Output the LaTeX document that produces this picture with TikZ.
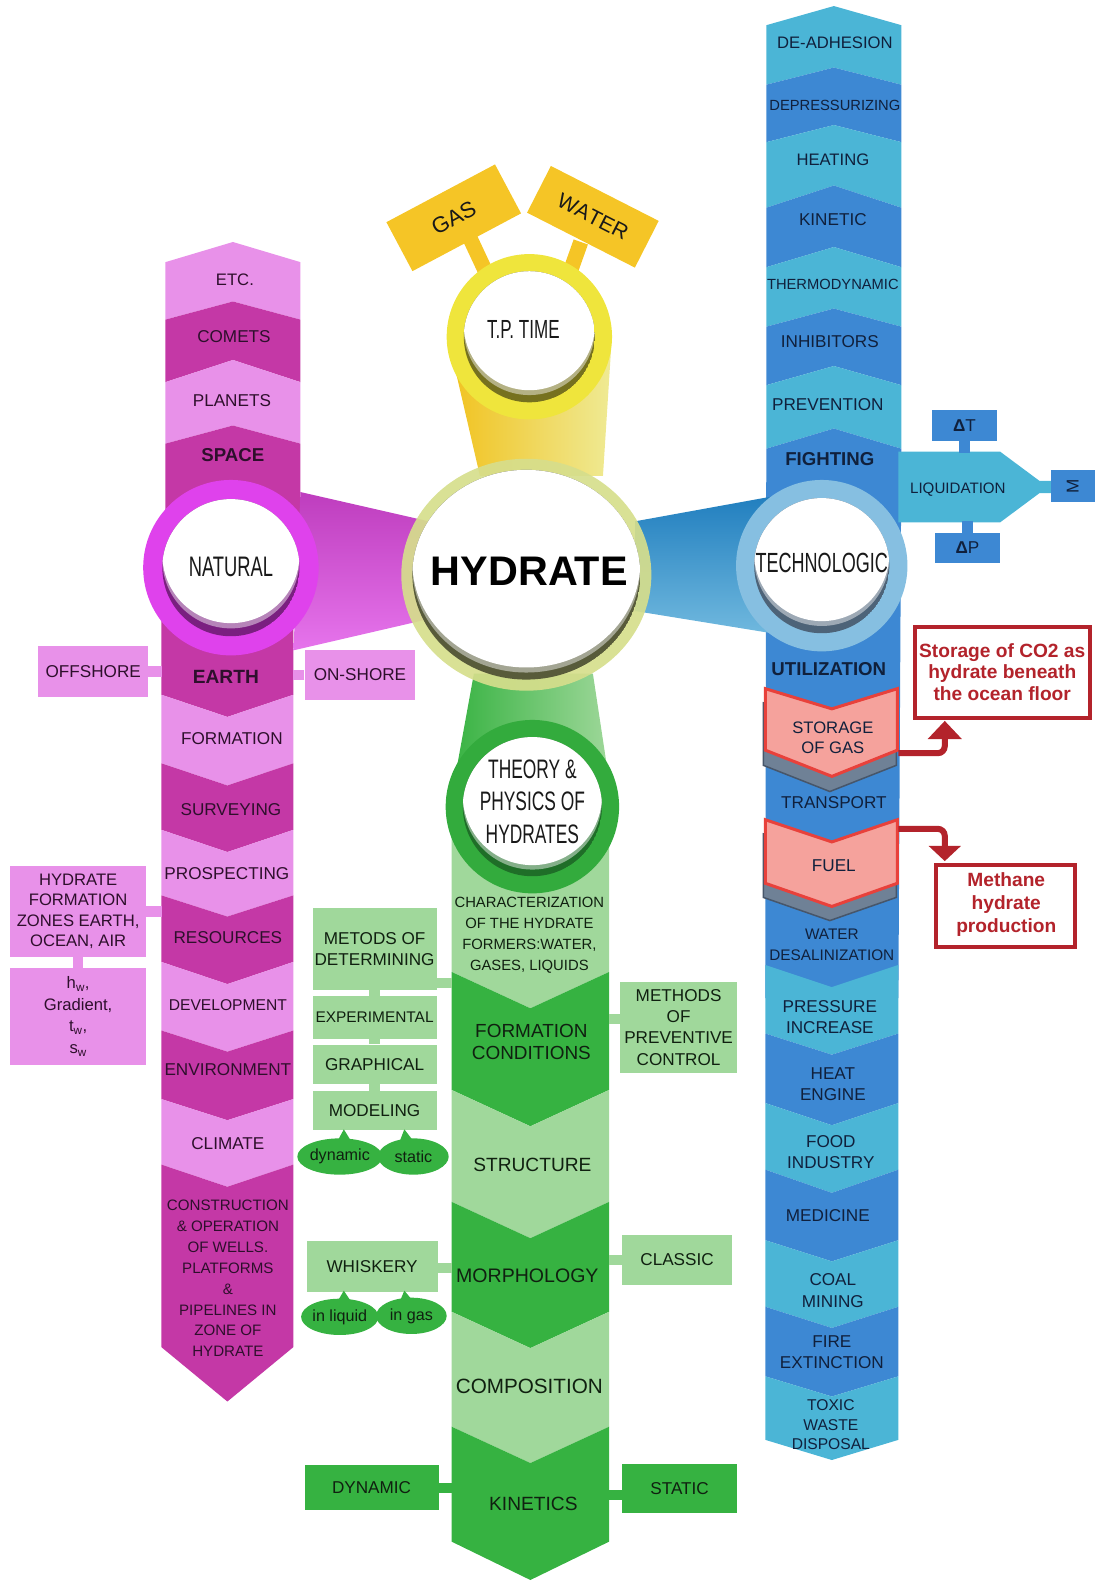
\documentclass[tikz,border=0pt]{standalone}
\usepackage{fontspec}
\setmainfont{Liberation Sans}
\newfontfamily\condfont[FakeStretch=0.65]{Liberation Sans}
\newfontfamily\nokern[Kerning=Off]{Liberation Sans}
\usetikzlibrary{shapes.geometric}
\definecolor{bL}{HTML}{4BB5D6}
\definecolor{bD}{HTML}{3D88D3}
\definecolor{bRing}{HTML}{86BFE1}
\definecolor{bConA}{HTML}{1F7DBE}
\definecolor{bConB}{HTML}{72BADF}
\definecolor{bTxt}{HTML}{10203C}
\definecolor{pL}{HTML}{E891E9}
\definecolor{pD}{HTML}{C438A6}
\definecolor{pRing}{HTML}{DF42EC}
\definecolor{pConA}{HTML}{BE3DBE}
\definecolor{pConB}{HTML}{E674EC}
\definecolor{pTxt}{HTML}{2E0F2C}
\definecolor{gL}{HTML}{A0D89B}
\definecolor{gD}{HTML}{36B241}
\definecolor{gRing}{HTML}{33AB3D}
\definecolor{gTxt}{HTML}{102010}
\definecolor{yRing}{HTML}{EFE53C}
\definecolor{yBox}{HTML}{F5C526}
\definecolor{yConA}{HTML}{F1C21E}
\definecolor{yConB}{HTML}{EFEA94}
\definecolor{hRing}{HTML}{D6DE8C}
\definecolor{rEdge}{HTML}{E8413B}
\definecolor{rFill}{HTML}{F5A29C}
\definecolor{rDark}{HTML}{B3232B}
\definecolor{shGrey}{HTML}{6F8196}
\definecolor{shEdge}{HTML}{47566A}
\definecolor{shY}{HTML}{76711F}
\definecolor{shH}{HTML}{585B3A}
\definecolor{shP}{HTML}{7A1F80}
\definecolor{shB}{HTML}{4D6378}
\definecolor{shG}{HTML}{1F6E28}
% band between two chevron boundaries: colour, xL, xR, top side y, top centre y, bottom side y, bottom centre y
\newcommand{\cband}[7]{\fill[#1] (#2,#4) -- ({(#2+#3)/2},#5) -- (#3,#4) -- (#3,#6) -- ({(#2+#3)/2},#7) -- (#2,#6) -- cycle;}
% ring with inset white disc: cx, cy, R, r, ring colour, shadow colour, shift
\newcommand{\ringdisc}[7]{%
  \fill[#5] (#1,#2) circle[radius=#3pt];
  \begin{scope}
    \clip (#1,#2) circle[radius=#4pt];
    \fill[#6] (#1,#2) circle[radius=#4pt];
    \fill[#6!55!white] (#1,#2-#7*0.6) circle[radius=#4pt];
    \fill[white] (#1,#2-#7) circle[radius=#4pt];
  \end{scope}}
\begin{document}
\begin{tikzpicture}[x=1pt,y=-1pt]
\tikzset{
  lab/.style={inner sep=0pt, align=center, font=\fontsize{17}{21}\selectfont},
  blab/.style={lab, text=bTxt},
  plab/.style={lab, text=pTxt},
  glab/.style={lab, text=gTxt},
  circlab/.style={inner sep=0pt, align=center, text=black!90},
  redtxt/.style={inner sep=0pt, align=center, text=rDark, font=\bfseries\fontsize{19}{21.5}\selectfont},
  bub/.style={ellipse, fill=gD, inner sep=0pt, minimum width=70, minimum height=36, text=gTxt, font=\fontsize{16}{18}\selectfont}
}
\useasboundingbox (0,0) rectangle (1086,1568);

% ---------------- BLUE COLUMN ----------------
\cband{bL}{760}{894}{25}{6}{84}{67}
\cband{bD}{760}{894}{84}{67}{141}{124}
\cband{bL}{760}{894}{141}{124}{206}{184}
\cband{bD}{760}{894}{206}{184}{265}{245}
\cband{bL}{760}{894}{265}{245}{324}{306}
\cband{bD}{760}{894}{324}{306}{382}{363}
\cband{bL}{760}{894}{382}{363}{445}{425}
\fill[bD] (760,445) -- (827,425) -- (894,445) -- (891,990) -- (759,990) -- cycle;
\cband{bL}{759}{891}{957}{979}{1025}{1046}
\cband{bD}{759}{891}{1025}{1046}{1094}{1116}
\cband{bL}{759}{891}{1094}{1116}{1160}{1183}
\cband{bD}{759}{891}{1160}{1183}{1230}{1251}
\cband{bL}{759}{891}{1230}{1251}{1296}{1317}
\cband{bD}{759}{891}{1296}{1317}{1365}{1385}
\cband{bL}{759}{891}{1365}{1385}{1428}{1448}
% red chevrons with shadows
\filldraw[fill=shGrey, draw=shEdge, line width=1.5] (757,697) -- (823,717) -- (889,697) -- (889,759) -- (823,785) -- (757,759) -- cycle;
\filldraw[fill=rFill, draw=rEdge, line width=3] (759,683) -- (825,703) -- (890,683) -- (890,744) -- (825,770) -- (759,744) -- cycle;
\filldraw[fill=shGrey, draw=shEdge, line width=1.5] (757,827) -- (823,849) -- (889,827) -- (889,890) -- (823,913) -- (757,890) -- cycle;
\filldraw[fill=rFill, draw=rEdge, line width=3] (759,813) -- (825,835) -- (890,813) -- (890,876) -- (825,899) -- (759,876) -- cycle;
% liquidation branch
\fill[bL] (891,448) -- (992,448) -- (1031,477) -- (1043,477) -- (1043,489) -- (1031,489) -- (992,518) -- (891,518) -- cycle;
\node[blab, fill=bD, minimum width=65, minimum height=30] (dT) at (956.5,422) {{\bfseries Δ}T};
\node[blab, fill=bD, minimum width=65, minimum height=29] (dP) at (959.5,543.5) {{\bfseries Δ}P};
\node[blab, fill=bD, minimum width=44, minimum height=31] (mbox) at (1064,482) {\rotatebox{90}{M}};
\draw[bD, line width=11] (dT.south) -- ++(0,12);
\draw[bD, line width=11] (dP.north) -- ++(0,-12);
\node[blab, font=\fontsize{15}{18}\selectfont] (liq) at (950,486) {LIQUIDATION};

% ---------------- PINK COLUMN ----------------
\cband{pL}{164}{298}{260}{240}{317}{299}
\cband{pD}{164}{298}{317}{299}{379}{357}
\cband{pL}{164}{298}{379}{357}{440}{422}
\fill[pD] (164,440) -- (231,422) -- (298,440) -- (298,520) -- (291,610) -- (291,689) -- (225.5,711) -- (160,689) -- (160,610) -- (164,520) -- cycle;
\cband{pL}{160}{291}{689}{711}{757}{779}
\cband{pD}{160}{291}{757}{779}{823}{845}
\cband{pL}{160}{291}{823}{845}{888}{909}
\cband{pD}{160}{291}{888}{909}{954}{976}
\cband{pL}{160}{291}{954}{976}{1022}{1043}
\cband{pD}{160}{291}{1022}{1043}{1090}{1111}
\cband{pL}{160}{291}{1090}{1111}{1155}{1177}
\cband{pD}{160}{291}{1155}{1177}{1336}{1390}
% pink side boxes
\node[plab, fill=pL, minimum width=109, minimum height=50] (off) at (92.5,666) {OFFSHORE};
\node[plab, fill=pL, minimum width=110, minimum height=49] (ons) at (357,669.5) {ON-SHORE};
\draw[pL, line width=10] (off.east) -- ++(13,0);
\draw[pL, line width=10] (ons.west) -- ++(-11,0);
\node[plab, fill=pL, minimum width=135, minimum height=90, font=\fontsize{16.5}{20.3}\selectfont] (hfz) at (77.5,904) {HYDRATE\\FORMATION\\ZONES EARTH,\\OCEAN, AIR};
\node[plab, fill=pL, minimum width=135, minimum height=96, font=\fontsize{16.5}{21.5}\selectfont] (hw) at (77.5,1008) {h\textsubscript{w},\\Gradient,\\t\textsubscript{w},\\s\textsubscript{w}};
\draw[pL, line width=10] (hfz.east) -- ++(15,0);
\draw[pL, line width=10] (hfz.south) -- (hw.north);

% ---------------- GREEN COLUMN ----------------
\cband{gL}{448}{604}{790}{790}{964}{1000}
\cband{gD}{448}{604}{964}{1000}{1081}{1117}
\cband{gL}{448}{604}{1081}{1117}{1192}{1228}
\cband{gD}{448}{604}{1192}{1228}{1301}{1337}
\cband{gL}{448}{604}{1301}{1337}{1415}{1451}
\cband{gD}{448}{604}{1415}{1451}{1529}{1567}
% green side boxes
\node[glab, fill=gL, minimum width=123, minimum height=81] (met) at (371.5,941.5) {METODS OF\\DETERMINING};
\node[glab, fill=gL, minimum width=123, minimum height=42, font=\fontsize{15.3}{18}\selectfont] (exp) at (371.5,1009) {EXPERIMENTAL};
\node[glab, fill=gL, minimum width=123, minimum height=39] (gra) at (371.5,1055.5) {GRAPHICAL};
\node[glab, fill=gL, minimum width=123, minimum height=39] (mod) at (371.5,1101.5) {MODELING};
\draw[gL, line width=11] (met.south) -- (exp.north);
\draw[gL, line width=11] (exp.south) -- (gra.north);
\draw[gL, line width=11] (gra.south) -- (mod.north);
\draw[gL, line width=10] (met.south east) ++(0,-7) -- ++(15,0);
\fill[gD] (334,1133) -- (341,1120) -- (349,1133) -- cycle;
\fill[gD] (396,1133) -- (401,1120) -- (411,1133) -- cycle;
\node[bub] (dyn) at (337,1147) {dynamic};
\node[bub] (sta) at (410,1147) {static};
\node[glab, fill=gL, minimum width=116, minimum height=90] (mpc) at (673,1019) {METHODS\\OF\\PREVENTIVE\\CONTROL};
\draw[gL, line width=10] (mpc.west) ++(0,-8) -- ++(-11,0);
\node[glab, fill=gL, minimum width=130, minimum height=50] (whi) at (369,1256) {WHISKERY};
\draw[gL, line width=10] (whi.east) ++(0,2) -- ++(14,0);
\fill[gD] (334,1292) -- (341,1280) -- (349,1292) -- cycle;
\fill[gD] (396,1292) -- (401,1280) -- (411,1292) -- cycle;
\node[bub] (liqd) at (337,1306) {in liquid};
\node[bub] (ingas) at (408,1305) {in gas};
\node[glab, fill=gL, minimum width=109, minimum height=49] (cla) at (671.5,1249.5) {CLASSIC};
\draw[gL, line width=10] (cla.west) -- ++(-13,0);
\node[glab, fill=gD, minimum width=133, minimum height=45] (dyb) at (368.5,1475.5) {DYNAMIC};
\draw[gD, line width=10] (dyb.east) -- ++(13,0);
\node[glab, fill=gD, minimum width=114, minimum height=49] (stb) at (674,1476.5) {STATIC};
\draw[gD, line width=10] (stb.west) ++(0,6) -- ++(-13,0);

% ---------------- CONNECTORS ----------------
\draw[yBox, line width=15] (466,236) -- (481,268);
\draw[yBox, line width=15] (576,240) -- (566,268);
\shade[left color=yConA, right color=yConB] (444,334) -- (606,347) -- (598,472) -- (476,472) -- cycle;
\shade[top color=pConA, bottom color=pConB] (298,488) -- (425,517) -- (425,614) -- (291,645) -- cycle;
\shade[top color=bConA, bottom color=bConB] (630,517) -- (790,488) -- (790,632) -- (630,606) -- cycle;
\shade[left color=gD, right color=gL] (470,668) -- (588,668) -- (608,800) -- (446,800) -- cycle;

% ---------------- GAS / WATER ----------------
\node[fill=yBox, minimum width=122, minimum height=55, rotate=28, inner sep=0pt, font=\fontsize{22}{24}\selectfont, text=black!90] (gas) at (450,216) {GAS};
\node[fill=yBox, minimum width=120, minimum height=52, rotate=-27, inner sep=0pt, font=\nokern\fontsize{21}{24}\selectfont, text=black!90] (water) at (588,215) {WATER};

% ---------------- CIRCLES ----------------
\ringdisc{525}{334}{82}{65}{yRing}{shY}{12}
\fill[hRing, opacity=0.92] (522,570) ellipse [x radius=124pt, y radius=115pt];
\begin{scope}
  \clip (522,570) ellipse [x radius=113pt, y radius=104pt];
  \fill[shH] (522,570) ellipse [x radius=113pt, y radius=104pt];
  \fill[shH!55!white] (522,563) ellipse [x radius=113pt, y radius=104pt];
  \fill[white] (522,558) ellipse [x radius=113pt, y radius=104pt];
\end{scope}
\ringdisc{229}{563}{87}{68}{pRing}{shP}{13}
\ringdisc{815}{561}{85}{67}{bRing}{shB}{12}
\ringdisc{528}{800}{86}{69}{gRing}{shG}{11}

\node[circlab, font=\condfont\fontsize{26}{30}\selectfont] (tp) at (519,327) {T.P. TIME};
\node[circlab, font=\bfseries\fontsize{41}{45}\selectfont, text=black] (hyd) at (525,567) {HYDRATE};
\node[circlab, font=\condfont\fontsize{28}{32}\selectfont] (nat) at (229,562) {NATURAL};
\node[circlab, font=\condfont\fontsize{27.5}{32}\selectfont] (tec) at (815,558) {TECHNOLOGIC};
\node[circlab, font=\condfont\fontsize{26.5}{32.5}\selectfont] (the) at (528,795) {THEORY \&\\PHYSICS OF\\HYDRATES};

% ---------------- BLUE LABELS ----------------
\node[blab, font=\fontsize{16.5}{20}\selectfont] at (828,42) {DE-ADHESION};
\node[blab, font=\fontsize{14.6}{18}\selectfont] at (828,105) {DEPRESSURIZING};
\node[blab, font=\fontsize{16.5}{20}\selectfont] at (826,158) {HEATING};
\node[blab] at (826,218) {KINETIC};
\node[blab, font=\fontsize{14.6}{18}\selectfont] at (826,282) {THERMODYNAMIC};
\node[blab] at (823,339) {INHIBITORS};
\node[blab] at (821,401) {PREVENTION};
\node[blab, font=\bfseries\fontsize{18.5}{21}\selectfont] at (823,455) {FIGHTING};
\node[blab, font=\bfseries\fontsize{18.5}{21}\selectfont] at (822,664) {UTILIZATION};
\node[blab, font=\fontsize{16.5}{20}\selectfont] (stor) at (826,732) {STORAGE\\OF GAS};
\node[blab] at (827,796) {TRANSPORT};
\node[blab] (fuel) at (827,859) {FUEL};
\node[blab, font=\fontsize{15.2}{20}\selectfont] at (825,937) {WATER\\DESALINIZATION};
\node[blab] at (823,1009) {PRESSURE\\INCREASE};
\node[blab] at (826,1075) {HEAT\\ENGINE};
\node[blab] at (824,1143) {FOOD\\INDUSTRY};
\node[blab] at (821,1206) {MEDICINE};
\node[blab] at (826,1280) {COAL\\MINING};
\node[blab] at (825,1341) {FIRE\\EXTINCTION};
\node[blab, font=\fontsize{15.5}{19}\selectfont] at (824,1413) {TOXIC\\WASTE\\DISPOSAL};

% ---------------- PINK LABELS ----------------
\node[plab, font=\fontsize{16.5}{20}\selectfont] at (233,277) {ETC.};
\node[plab] at (232,334) {COMETS};
\node[plab] at (230,397) {PLANETS};
\node[plab, font=\bfseries\fontsize{18.5}{21}\selectfont] at (231,451) {SPACE};
\node[plab, font=\bfseries\fontsize{19}{21}\selectfont] at (224,671) {EARTH};
\node[plab] at (230,733) {FORMATION};
\node[plab] at (229,803) {SURVEYING};
\node[plab] at (225,866) {PROSPECTING};
\node[plab] at (226,930) {RESOURCES};
\node[plab, font=\fontsize{15.5}{19}\selectfont] at (226,997) {DEVELOPMENT};
\node[plab] at (226,1061) {ENVIRONMENT};
\node[plab] at (226,1134) {CLIMATE};
\node[plab, font=\fontsize{15}{20.7}\selectfont] at (226,1268) {CONSTRUCTION\\\& OPERATION\\OF WELLS.\\PLATFORMS\\\&\\PIPELINES IN\\ZONE OF\\HYDRATE};

% ---------------- GREEN LABELS ----------------
\node[glab, font=\fontsize{14.7}{21}\selectfont] at (525,927.5) {CHARACTERIZATION\\OF THE HYDRATE\\FORMERS:WATER,\\GASES, LIQUIDS};
\node[glab, font=\fontsize{18.8}{21.5}\selectfont] at (527,1033.5) {FORMATION\\CONDITIONS};
\node[glab, font=\fontsize{19}{22}\selectfont] at (528,1155) {STRUCTURE};
\node[glab, font=\fontsize{19.4}{22}\selectfont] at (523,1265) {MORPHOLOGY};
\node[glab, font=\fontsize{20.5}{23}\selectfont] at (525,1375) {COMPOSITION};
\node[glab, font=\fontsize{19}{22}\selectfont] at (529,1492) {KINETICS};

% ---------------- RED CALLOUTS ----------------
\node[draw=rDark, line width=4, fill=white, minimum width=174, minimum height=90, inner sep=0pt] (co2) at (994,667) {};
\node[redtxt] at (994,666.5) {Storage of CO2 as\\hydrate beneath\\the ocean floor};
\node[draw=rDark, line width=4, fill=white, minimum width=138, minimum height=81, inner sep=0pt] (meth) at (997,898.5) {};
\node[redtxt, font=\bfseries\fontsize{19}{23}\selectfont] at (998,897) {Methane\\hydrate\\production};
\coordinate (a1) at (891,747);
\coordinate (a2) at (891,822);
\draw[rDark, line width=6, rounded corners=7] (a1) -- (937,747) -- (937,731);
\fill[rDark] (920,733) -- (937,715) -- (954,733) -- cycle;
\draw[rDark, line width=6, rounded corners=7] (a2) -- (937,822) -- (937,841);
\fill[rDark] (921,839) -- (937,854) -- (953,839) -- cycle;
\end{tikzpicture}
\end{document}
